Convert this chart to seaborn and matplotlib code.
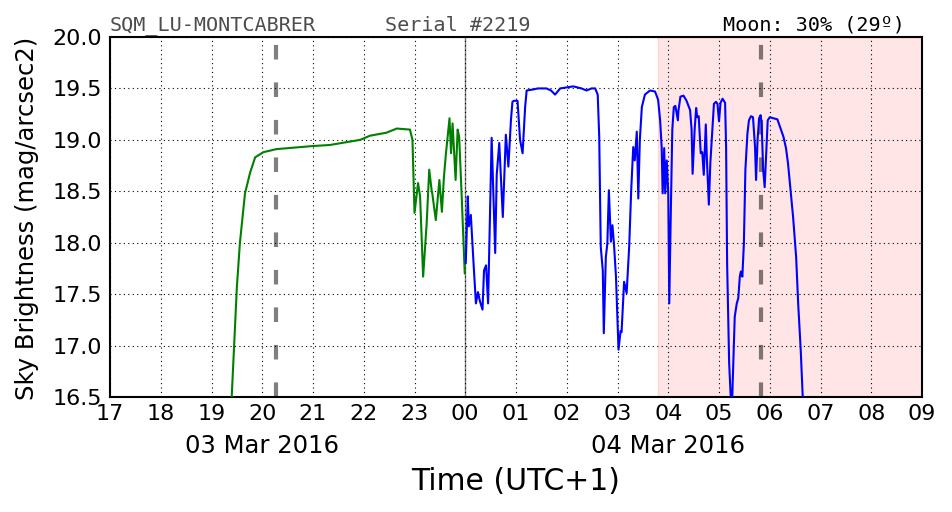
import matplotlib
matplotlib.use("Agg")
import matplotlib.pyplot as plt
import matplotlib.transforms as mtransforms
import seaborn as sns
import pandas as pd

# ---- data (hours since 00:00 on 03 Mar 2016, UTC+1) ----
dusk_hours = [19.38, 19.40, 19.50, 19.56, 19.66, 19.76, 19.86, 20.02, 20.28, 21.00, 21.33,
              21.93, 22.12, 22.45, 22.65, 22.91, 22.96, 23.00, 23.07, 23.11, 23.17, 23.24,
              23.29, 23.34, 23.35, 23.42, 23.49, 23.54, 23.58, 23.62, 23.69, 23.72, 23.75,
              23.81, 23.85, 23.88, 23.93, 23.99]
dusk_values = [16.40, 16.52, 17.57, 18.00, 18.48, 18.68, 18.83, 18.88, 18.91, 18.94, 18.95,
               19.00, 19.04, 19.07, 19.11, 19.10, 19.00, 18.29, 18.58, 18.45, 17.67, 18.19,
               18.71, 18.50, 18.48, 18.22, 18.61, 18.30, 18.64, 18.87, 19.21, 18.87, 19.16,
               18.61, 19.10, 19.03, 18.45, 17.70]

night_hours = [24.01, 24.05, 24.07, 24.11, 24.16, 24.21, 24.25, 24.29, 24.34, 24.37, 24.41,
               24.45, 24.52, 24.59, 24.62, 24.67, 24.74, 24.80, 24.85, 24.90, 24.93, 24.96,
               25.03, 25.08, 25.13, 25.18, 25.21, 25.34, 25.43, 25.60, 25.69, 25.77, 25.87,
               26.13, 26.29, 26.39, 26.49, 26.56, 26.61, 26.64, 26.67, 26.71, 26.73, 26.77,
               26.80, 26.83, 26.87, 26.90, 26.93, 26.97, 27.02, 27.06, 27.08, 27.13, 27.18,
               27.23, 27.27, 27.31, 27.34, 27.38, 27.41, 27.44, 27.48, 27.54, 27.64, 27.74,
               27.80, 27.84, 27.87, 27.89, 27.92, 27.94, 27.97, 28.00, 28.02, 28.05, 28.08,
               28.11, 28.14, 28.19, 28.20, 28.24, 28.30, 28.36, 28.43, 28.46, 28.48, 28.52,
               28.55, 28.57, 28.60, 28.64, 28.67, 28.70, 28.74, 28.76, 28.80, 28.83, 28.87,
               28.90, 28.94, 28.97, 29.00, 29.03, 29.07, 29.12, 29.14, 29.16, 29.20, 29.25,
               29.27, 29.31, 29.35, 29.38, 29.41, 29.43, 29.46, 29.49, 29.52, 29.56, 29.59,
               29.63, 29.67, 29.71, 29.73, 29.76, 29.79, 29.82, 29.84, 29.87, 29.90, 29.93,
               29.96, 30.00, 30.07, 30.15, 30.20, 30.27, 30.32, 30.36, 30.41, 30.46, 30.52,
               30.56, 30.61, 30.65, 30.67]
night_values = [17.80, 18.45, 18.16, 18.27, 17.83, 17.41, 17.52, 17.43, 17.35, 17.73, 17.78,
                17.41, 19.02, 17.90, 18.66, 18.97, 18.25, 19.05, 18.74, 19.19, 19.37, 19.38,
                19.38, 19.00, 18.87, 19.32, 19.48, 19.49, 19.50, 19.50, 19.48, 19.44, 19.50,
                19.52, 19.50, 19.48, 19.50, 19.50, 19.44, 19.03, 17.96, 17.73, 17.12, 17.86,
                17.99, 18.51, 18.01, 18.17, 17.99, 17.67, 16.96, 17.14, 17.13, 17.62, 17.51,
                17.96, 18.51, 18.93, 18.80, 19.08, 18.43, 19.00, 19.32, 19.44, 19.48, 19.47,
                19.39, 19.19, 18.93, 18.48, 18.92, 18.48, 18.80, 18.48, 17.41, 18.29, 19.10,
                19.32, 19.33, 19.19, 19.28, 19.42, 19.43, 19.38, 19.29, 19.10, 18.67, 19.10,
                19.31, 19.22, 19.23, 18.87, 18.88, 18.66, 19.15, 18.83, 18.37, 18.78, 19.10,
                19.35, 19.37, 19.35, 19.18, 19.36, 19.40, 19.36, 18.93, 17.80, 16.83, 16.30,
                16.64, 17.28, 17.41, 17.46, 17.67, 17.72, 17.67, 17.99, 18.71, 19.06, 19.19,
                19.23, 19.22, 18.93, 18.61, 19.00, 19.21, 19.24, 19.16, 18.71, 18.54, 18.87,
                19.19, 19.22, 19.21, 19.20, 19.13, 19.03, 18.92, 18.77, 18.51, 18.25, 17.86,
                17.41, 16.96, 16.50, 16.30]

hour_ticks = list(range(17, 34))
hour_labels = ["17", "18", "19", "20", "21", "22", "23", "00", "01", "02", "03",
               "04", "05", "06", "07", "08", "09"]
date_positions = [20.0, 28.0]
date_labels = ["03 Mar 2016", "04 Mar 2016"]
moon_marks = [20.27, 29.83]
midnight = 24.0
moon_above_start = 27.79
y_ticks = [16.5, 17.0, 17.5, 18.0, 18.5, 19.0, 19.5, 20.0]

sns.set_style("white")
plt.rcParams["font.family"] = ["DejaVu Sans"]
plt.rcParams["text.color"] = "black"
plt.rcParams["axes.labelcolor"] = "black"
plt.rcParams["xtick.color"] = "black"
plt.rcParams["ytick.color"] = "black"

fig = plt.figure(figsize=(9.52, 5.12), dpi=100)
ax = fig.add_axes([110 / 952, 115 / 512, 812 / 952, 360 / 512])

ax.axvspan(moon_above_start, 33, facecolor=(1, 0, 0, 0.1), edgecolor=(1, 0, 0, 0.12), lw=1, zorder=0)

dusk = pd.DataFrame({"t": dusk_hours, "v": dusk_values})
night = pd.DataFrame({"t": night_hours, "v": night_values})
sns.lineplot(data=dusk, x="t", y="v", ax=ax, color="green", lw=1.5, sort=False, zorder=3)
sns.lineplot(data=night, x="t", y="v", ax=ax, color="blue", lw=1.5, sort=False, zorder=3)

for m in moon_marks:
    ax.axvline(m, color="k", alpha=0.5, lw=3, dashes=(3.5, 5.5), zorder=2)
ax.axvline(midnight, color="k", alpha=0.5, lw=1, zorder=2)

ax.set_xlim(17, 33)
ax.set_ylim(16.5, 20.0)
ax.set_xticks(hour_ticks)
ax.set_xticklabels(hour_labels)
ax.set_yticks(y_ticks)
ax.set_yticklabels([f"{v:.1f}" for v in y_ticks])
ax.tick_params(axis="both", length=0, labelsize=16, colors="black")
ax.tick_params(axis="x", pad=5)
ax.tick_params(axis="y", pad=6)
ax.grid(True, color="k", linestyle=(0, (1, 3)), lw=0.8)
ax.set_axisbelow(False)
for s in ax.spines.values():
    s.set_visible(True)
    s.set_color("k")
    s.set_linewidth(1.5)
ax.set_xlabel("")
ax.set_ylabel("")

trans = mtransforms.blended_transform_factory(ax.transData, ax.transAxes)
for p, lab in zip(date_positions, date_labels):
    ax.text(p, -0.135, lab, transform=trans, ha="center", va="center", fontsize=17.5)

fig.text((110 + 406) / 952, (512 - 482) / 512, "Time (UTC+1)", ha="center", va="center",
         fontsize=21.5)
fig.text(27 / 952, (512 - 218) / 512, "Sky Brightness (mag/arcsec2)", rotation=90,
         ha="center", va="center", fontsize=17.5)

ax.text(0.0, 1.006, "SQM_LU-MONTCABRER", transform=ax.transAxes, ha="left", va="bottom",
        fontsize=14.5, family="DejaVu Sans Mono", color="0.3")
ax.text(0.339, 1.006, "Serial #2219", transform=ax.transAxes, ha="left", va="bottom",
        fontsize=14.5, family="DejaVu Sans Mono", color="0.3")
ax.text(0.979, 1.006, "Moon: 30% (29º)", transform=ax.transAxes, ha="right", va="bottom",
        fontsize=14.5, family="DejaVu Sans Mono", color="k")

fig.savefig("out.png", dpi=100)
